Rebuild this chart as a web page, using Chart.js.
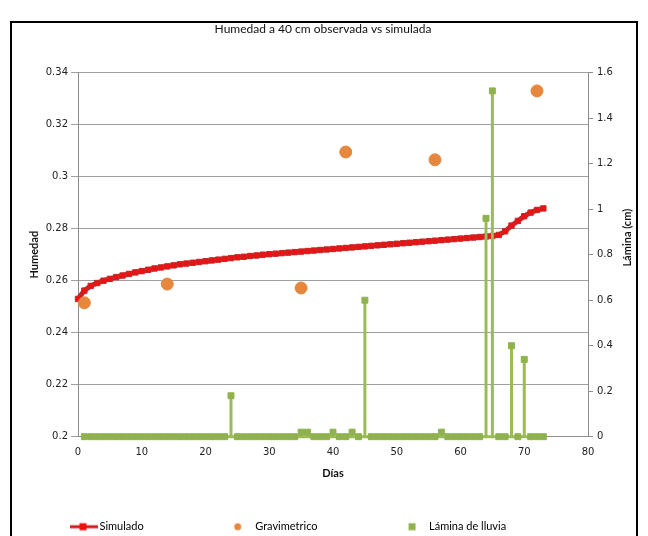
<!DOCTYPE html>
<html>
<head>
<meta charset="utf-8">
<script src="https://cdn.jsdelivr.net/npm/chart.js@4.4.1/dist/chart.umd.min.js"></script>
<style>
  html, body { margin: 0; padding: 0; background: #fff; }
  #wrap { position: absolute; left: 0; top: 0; width: 648px; height: 536px; }
  #frame { position: absolute; left: 10px; top: 21px; width: 624px; height: 600px; border: 2px solid #000; pointer-events: none; }
</style>
</head>
<body>
<div id="wrap"><canvas id="chart" width="648" height="536"></canvas></div>
<div id="frame"></div>
<script>
const chartTitle = 'Humedad a 40 cm observada vs simulada';
const xTitle = 'Días';
const leftTitle = 'Humedad';
const rightTitle = 'Lámina (cm)';

// simulated soil moisture, one value per day
const simDays = [0, 1, 2, 3, 4, 5, 6, 7, 8, 9, 10, 11, 12, 13, 14, 15, 16, 17, 18, 19,
  20, 21, 22, 23, 24, 25, 26, 27, 28, 29, 30, 31, 32, 33, 34, 35, 36, 37, 38, 39,
  40, 41, 42, 43, 44, 45, 46, 47, 48, 49, 50, 51, 52, 53, 54, 55, 56, 57, 58, 59,
  60, 61, 62, 63, 64, 65, 66, 67, 68, 69, 70, 71, 72, 73];
const simValues = [0.2530, 0.2562, 0.2580, 0.2591, 0.2600, 0.2607, 0.2614, 0.2620, 0.2626, 0.2632,
  0.2637, 0.2642, 0.2647, 0.2651, 0.2655, 0.2659, 0.2663, 0.2666, 0.2669, 0.2672,
  0.2675, 0.2678, 0.2681, 0.2684, 0.2687, 0.2690, 0.2692, 0.2695, 0.2697, 0.2700,
  0.2702, 0.2704, 0.2706, 0.2708, 0.2710, 0.2712, 0.2714, 0.2716, 0.2718, 0.2720,
  0.2722, 0.2724, 0.2726, 0.2728, 0.2730, 0.2732, 0.2734, 0.2736, 0.2738, 0.2740,
  0.2742, 0.2744, 0.2746, 0.2748, 0.2750, 0.2752, 0.2754, 0.2756, 0.2758, 0.2760,
  0.2762, 0.2764, 0.2766, 0.2768, 0.2770, 0.2772, 0.2776, 0.2790, 0.2812, 0.2830,
  0.2848, 0.2862, 0.2872, 0.2878];

// gravimetric samples
const gravDays = [1, 14, 35, 42, 56, 72];
const gravValues = [0.2515, 0.2587, 0.2572, 0.3095, 0.3065, 0.3330];

// rain depth (cm) per day
const rainDays = [1, 2, 3, 4, 5, 6, 7, 8, 9, 10, 11, 12, 13, 14, 15, 16, 17, 18, 19, 20,
  21, 22, 23, 24, 25, 26, 27, 28, 29, 30, 31, 32, 33, 34, 35, 36, 37, 38, 39, 40,
  41, 42, 43, 44, 45, 46, 47, 48, 49, 50, 51, 52, 53, 54, 55, 56, 57, 58, 59, 60,
  61, 62, 63, 64, 65, 66, 67, 68, 69, 70, 71, 72, 73];
const rainValues = [0, 0, 0, 0, 0, 0, 0, 0, 0, 0, 0, 0, 0, 0, 0, 0, 0, 0, 0, 0,
  0, 0, 0, 0.18, 0, 0, 0, 0, 0, 0, 0, 0, 0, 0, 0.02, 0.02, 0, 0, 0, 0.02,
  0, 0, 0.02, 0, 0.60, 0, 0, 0, 0, 0, 0, 0, 0, 0, 0, 0, 0.02, 0, 0, 0,
  0, 0, 0, 0.96, 1.52, 0, 0, 0.40, 0, 0.34, 0, 0, 0];

const leftTicks = { min: 0.2, max: 0.34, step: 0.02 };
const rightTicks = { min: 0, max: 1.6, step: 0.2 };
const xTicks = { min: 0, max: 80, step: 10 };

const simPoints = simDays.map((d, i) => ({ x: d, y: simValues[i] }));
const gravPoints = gravDays.map((d, i) => ({ x: d, y: gravValues[i] }));
// rain drawn as vertical drops: a hidden base point on each side of a rainy day
const rainPoints = [];
rainDays.forEach((d, i) => {
  const v = rainValues[i];
  if (v > 0) {
    rainPoints.push({ x: d, y: 0, base: true }, { x: d, y: v }, { x: d, y: 0, base: true });
  } else {
    rainPoints.push({ x: d, y: 0 });
  }
});

const font = "Lato, 'DejaVu Sans', sans-serif";
const tickFont = "'DejaVu Sans', sans-serif";

function makeIcon(draw) {
  const c = document.createElement('canvas');
  c.width = 110;
  c.height = 14;
  draw(c.getContext('2d'));
  return c;
}
const legendIcons = [
  makeIcon(g => {
    g.strokeStyle = '#d01c1c'; g.lineWidth = 3;
    g.beginPath(); g.moveTo(79, 7); g.lineTo(107, 7); g.stroke();
    g.fillStyle = '#ee1111'; g.fillRect(88.5, 3.5, 7, 7);
  }),
  makeIcon(g => {
    g.fillStyle = '#e5873d';
    g.beginPath(); g.arc(91, 7, 3.5, 0, Math.PI * 2); g.fill();
  }),
  makeIcon(g => {
    g.fillStyle = '#8fb24e'; g.fillRect(88, 3.5, 7, 7);
  })
];

const rightTitlePlugin = {
  id: 'rightTitle',
  afterDraw(chart) {
    const s = chart.scales.y1;
    const ctx = chart.ctx;
    ctx.save();
    ctx.translate(s.right - 31, (s.top + s.bottom) / 2 - 17);
    ctx.rotate(-Math.PI / 2);
    ctx.font = 'bold 11px ' + font;
    ctx.fillStyle = '#111';
    ctx.textAlign = 'center';
    ctx.textBaseline = 'middle';
    ctx.fillText(rightTitle, 0, 0);
    ctx.restore();
  }
};

const fmt = v => String(Number(v.toFixed(2)));

new Chart(document.getElementById('chart'), {
  type: 'scatter',
  data: {
    datasets: [
      {
        label: 'Simulado',
        data: simPoints,
        yAxisID: 'y',
        showLine: true,
        borderColor: '#c42428',
        borderWidth: 5,
        pointStyle: 'rect',
        pointRadius: 3.8,
        pointBackgroundColor: '#ee1111',
        pointBorderColor: '#c62828',
        pointBorderWidth: 1,
        clip: false,
        order: 3
      },
      {
        label: 'Gravimetrico',
        data: gravPoints,
        yAxisID: 'y',
        pointStyle: 'circle',
        pointRadius: 6,
        pointBackgroundColor: '#e5873d',
        pointBorderColor: '#e5873d',
        clip: false,
        order: 2
      },
      {
        label: 'Lámina de lluvia',
        data: rainPoints,
        yAxisID: 'y1',
        showLine: true,
        borderColor: '#9bbb59',
        borderWidth: 3,
        pointStyle: 'rect',
        pointRadius: ctx => (ctx.raw && ctx.raw.base ? 0 : 4.2),
        pointBackgroundColor: '#8fb24e',
        pointBorderColor: '#8fb24e',
        pointBorderWidth: 1,
        clip: false,
        order: 1
      }
    ]
  },
  options: {
    responsive: false,
    animation: false,
    layout: { padding: { left: -12, right: -10, top: 22, bottom: -6.2 } },
    plugins: {
      tooltip: { enabled: false },
      title: {
        display: true,
        text: chartTitle,
        color: '#111',
        font: { family: font, size: 12, weight: 'normal' },
        padding: { top: 0, bottom: 36.3 }
      },
      legend: {
        position: 'bottom',
        align: 'start',
        labels: {
          usePointStyle: true,
          pointStyleWidth: 96,
          padding: 10,
          color: '#111',
          font: { family: font, size: 11 },
          generateLabels: chart => chart.data.datasets.map((ds, i) => ({
            text: ds.label,
            pointStyle: legendIcons[i],
            datasetIndex: i,
            hidden: false,
            lineWidth: 0,
            fillStyle: 'rgba(0,0,0,0)',
            strokeStyle: 'rgba(0,0,0,0)'
          }))
        }
      }
    },
    scales: {
      x: {
        type: 'linear',
        position: 'bottom',
        min: xTicks.min,
        max: xTicks.max,
        afterFit: s => { s.height = 74.5; },
        ticks: { stepSize: xTicks.step, color: '#222', padding: 10, font: { family: tickFont, size: 10 } },
        grid: { display: false, drawTicks: false },
        border: { color: '#8c8c8c' },
        title: { display: true, text: xTitle, color: '#111', font: { family: font, size: 11, weight: 'bold' }, padding: { top: 0, bottom: 31.6 } }
      },
      y: {
        type: 'linear',
        position: 'left',
        min: leftTicks.min,
        max: leftTicks.max,
        afterFit: s => { s.width = 90; },
        ticks: { stepSize: leftTicks.step, color: '#222', padding: 3, font: { family: tickFont, size: 10 }, callback: fmt },
        grid: { color: '#a0a0a0', tickLength: 7 },
        border: { color: '#8c8c8c' },
        title: { display: true, text: leftTitle, color: '#111', font: { family: font, size: 11, weight: 'bold' }, padding: { top: 39.4, bottom: 0 } }
      },
      y1: {
        type: 'linear',
        position: 'right',
        min: rightTicks.min,
        max: rightTicks.max,
        afterFit: s => { s.width = 70; },
        ticks: { stepSize: rightTicks.step, color: '#222', padding: 4, font: { family: tickFont, size: 10 }, callback: fmt },
        grid: { drawOnChartArea: false, color: '#8c8c8c', tickLength: 5 },
        border: { color: '#8c8c8c' },
        title: { display: false }
      }
    }
  },
  plugins: [rightTitlePlugin]
});
</script>
</body>
</html>
